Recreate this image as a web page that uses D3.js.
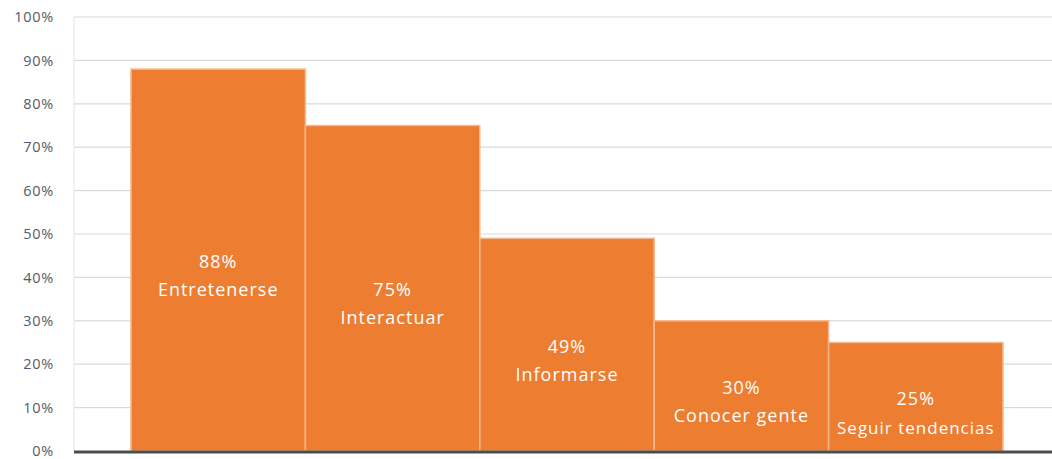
<!DOCTYPE html>
<html>
<head>
<meta charset="utf-8">
<script src="https://cdn.jsdelivr.net/npm/d3@7"></script>
<style>
  html, body { margin: 0; padding: 0; background: #fff; }
  svg { display: block; }
</style>
</head>
<body>
<svg id="chart" width="1052" height="459"></svg>
<script>
// Motivos de uso: share of respondents per reason
const categories = ["Entretenerse", "Interactuar", "Informarse", "Conocer gente", "Seguir tendencias"];
const values = [88, 75, 49, 30, 25];
const yTicks = [0, 10, 20, 30, 40, 50, 60, 70, 80, 90, 100];

const svg = d3.select("#chart");

const plotLeft = 74, plotRight = 1052;
const barsLeft = 131, barsRight = 1003;
const yTop = 17, yBottom = 451;

const x = d3.scaleBand().domain(categories).range([barsLeft, barsRight]).paddingInner(0).paddingOuter(0);
const y = d3.scaleLinear().domain([0, 100]).range([yBottom, yTop]);

// horizontal gridlines
svg.append("g")
  .selectAll("line")
  .data(yTicks.filter(t => t > 0))
  .join("line")
  .attr("x1", plotLeft).attr("x2", plotRight)
  .attr("y1", d => y(d)).attr("y2", d => y(d))
  .attr("stroke", "#d9d9d9").attr("stroke-width", 1.2);

// left vertical rule
svg.append("line")
  .attr("x1", plotLeft).attr("x2", plotLeft)
  .attr("y1", y(100)).attr("y2", y(0))
  .attr("stroke", "#e3e3e3").attr("stroke-width", 1);

// y-axis labels
const yAxis = d3.axisLeft(y).tickValues(yTicks).tickFormat(d => d + "%").tickSize(0).tickPadding(0);
const ya = svg.append("g").attr("transform", "translate(54,0)").call(yAxis);
ya.select(".domain").remove();
ya.selectAll("text")
  .attr("fill", "#555a66")
  .style("font-family", "'Open Sans', sans-serif")
  .style("font-size", "14.5px")
  .style("letter-spacing", "0.7px");

// bars
svg.append("g")
  .selectAll("rect")
  .data(values)
  .join("rect")
  .attr("x", (d, i) => x(categories[i]))
  .attr("width", x.bandwidth())
  .attr("y", d => y(d))
  .attr("height", d => y(0) - y(d))
  .attr("fill", "#ed7d31")
  .attr("stroke", "#f5b88e")
  .attr("stroke-width", 1.5);

// in-bar labels: value and category name
const lbl = svg.append("g")
  .selectAll("g")
  .data(values)
  .join("g")
  .attr("transform", (d, i) => `translate(${x(categories[i]) + x.bandwidth() / 2},${(y(d) + y(0)) / 2})`);

lbl.append("text")
  .attr("text-anchor", "middle")
  .attr("y", 8)
  .attr("fill", "#fff")
  .style("font-family", "'Open Sans', sans-serif")
  .style("font-size", "18px")
  .style("letter-spacing", "1px")
  .text(d => d + "%");

lbl.append("text")
  .attr("text-anchor", "middle")
  .attr("y", (d, i) => i === 4 ? 37 : 36)
  .attr("fill", "#fff")
  .style("font-family", "'Open Sans', sans-serif")
  .style("font-size", (d, i) => i === 4 ? "17px" : "18px")
  .style("letter-spacing", "1px")
  .text((d, i) => categories[i]);

// baseline
svg.append("line")
  .attr("x1", plotLeft).attr("x2", plotRight)
  .attr("y1", y(0) + 1).attr("y2", y(0) + 1)
  .attr("stroke", "#4d4d4d").attr("stroke-width", 3);
</script>
</body>
</html>
